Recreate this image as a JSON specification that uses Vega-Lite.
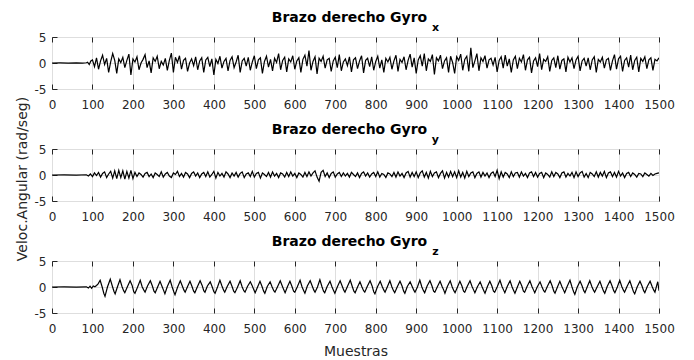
{
"$schema": "https://vega.github.io/schema/vega-lite/v6.json",
"background": "white",
"padding": {"left": 14, "top": 10, "right": 5, "bottom": 5},
"spacing": 60,
"bounds": "flush",
"config": {
  "font": "DejaVu Sans",
  "view": {"stroke": "#262626", "strokeWidth": 1},
  "axis": {"labelFont": "DejaVu Sans", "labelFontSize": 12, "labelColor": "#262626", "tickColor": "#262626", "domain": false, "gridColor": "#dedede", "gridOpacity": 1, "titleFont": "DejaVu Sans", "titleFontSize": 14, "titleFontWeight": "normal", "titleColor": "#262626", "labelFlush": false, "labelOverlap": false},
  "title": {"font": "DejaVu Sans", "fontSize": 14, "fontWeight": "bold", "color": "#000000", "subtitleFont": "DejaVu Sans", "subtitleFontSize": 11, "subtitleFontWeight": "bold", "subtitleColor": "#000000", "subtitlePadding": -3, "offset": -2, "anchor": "middle", "dx": -6}
},
"datasets": {
"gx": [{"m":0,"v":0},{"m":20,"v":0.02},{"m":40,"v":-0.02},{"m":60,"v":0.03},{"m":75,"v":-0.02},{"m":85,"v":0.05},{"m":88,"v":0.15},{"m":92,"v":-0.3},{"m":96,"v":0.4},
{"m":100,"v":0.6},{"m":105,"v":-0.7},{"m":110,"v":1.0},{"m":115,"v":-1.2},{"m":120,"v":0.4},
{"m":125,"v":1.5},{"m":130,"v":-0.3},{"m":135,"v":0.9},{"m":140,"v":-1.8},{"m":145,"v":0.2},
{"m":150,"v":1.8},{"m":155,"v":0.5},{"m":160,"v":-2.0},{"m":165,"v":0.8},{"m":170,"v":0.1},
{"m":175,"v":1.1},{"m":180,"v":-0.9},{"m":185,"v":0.5},{"m":190,"v":1.7},{"m":195,"v":-2.3},
{"m":200,"v":0.8},{"m":205,"v":0.2},{"m":210,"v":1.2},{"m":215,"v":-1.3},{"m":220,"v":0.0},
{"m":225,"v":0.7},{"m":230,"v":1.6},{"m":235,"v":-0.9},{"m":240,"v":0.4},{"m":245,"v":-1.9},
{"m":250,"v":1.0},{"m":255,"v":0.3},{"m":260,"v":1.3},{"m":265,"v":-1.1},{"m":270,"v":0.3},
{"m":275,"v":-0.4},{"m":280,"v":0.9},{"m":285,"v":-1.4},{"m":290,"v":0.5},{"m":295,"v":1.9},
{"m":300,"v":-1.8},{"m":305,"v":1.1},{"m":310,"v":0.1},{"m":315,"v":1.4},{"m":320,"v":-1.2},
{"m":325,"v":0.5},{"m":330,"v":0.9},{"m":335,"v":-1.6},{"m":340,"v":0.0},{"m":345,"v":0.8},
{"m":350,"v":-0.5},{"m":355,"v":1.2},{"m":360,"v":-1.3},{"m":365,"v":0.4},{"m":370,"v":1.0},
{"m":375,"v":-1.8},{"m":380,"v":0.6},{"m":385,"v":1.1},{"m":390,"v":-0.7},{"m":395,"v":0.8},
{"m":400,"v":-2.3},{"m":405,"v":0.7},{"m":410,"v":-0.1},{"m":415,"v":1.3},{"m":420,"v":-1.0},
{"m":425,"v":0.3},{"m":430,"v":0.9},{"m":435,"v":-1.5},{"m":440,"v":0.5},{"m":445,"v":1.2},
{"m":450,"v":-0.9},{"m":455,"v":0.2},{"m":460,"v":1.5},{"m":465,"v":-1.8},{"m":470,"v":0.4},
{"m":475,"v":0.9},{"m":480,"v":-0.6},{"m":485,"v":1.1},{"m":490,"v":-1.4},{"m":495,"v":0.2},
{"m":500,"v":1.4},{"m":505,"v":-1.1},{"m":510,"v":0.6},{"m":515,"v":1.0},{"m":520,"v":-2.0},
{"m":525,"v":0.3},{"m":530,"v":1.3},{"m":535,"v":-0.8},{"m":540,"v":0.7},{"m":545,"v":-1.5},
{"m":550,"v":0.9},{"m":555,"v":0.1},{"m":560,"v":1.8},{"m":565,"v":-1.3},{"m":570,"v":0.5},
{"m":575,"v":1.1},{"m":580,"v":-1.7},{"m":585,"v":0.8},{"m":590,"v":0.2},{"m":595,"v":1.4},
{"m":600,"v":-1.2},{"m":605,"v":0.4},{"m":610,"v":1.0},{"m":615,"v":-1.8},{"m":620,"v":0.7},
{"m":625,"v":1.5},{"m":630,"v":-0.6},{"m":635,"v":2.4},{"m":640,"v":-1.4},{"m":645,"v":0.3},
{"m":650,"v":1.2},{"m":655,"v":-2.1},{"m":660,"v":0.9},{"m":665,"v":0.3},{"m":670,"v":1.3},
{"m":675,"v":-1.0},{"m":680,"v":0.6},{"m":685,"v":0.9},{"m":690,"v":-1.6},{"m":695,"v":0.4},
{"m":700,"v":1.1},{"m":705,"v":-0.9},{"m":710,"v":1.6},{"m":715,"v":-1.5},{"m":720,"v":0.2},
{"m":725,"v":0.8},{"m":730,"v":-0.5},{"m":735,"v":1.2},{"m":740,"v":-1.7},{"m":745,"v":0.6},
{"m":750,"v":1.0},{"m":755,"v":-1.1},{"m":760,"v":0.4},{"m":765,"v":1.4},{"m":770,"v":-1.9},
{"m":775,"v":0.5},{"m":780,"v":0.9},{"m":785,"v":-0.7},{"m":790,"v":1.2},{"m":795,"v":-1.4},
{"m":800,"v":0.3},{"m":805,"v":1.3},{"m":810,"v":-1.0},{"m":815,"v":0.6},{"m":820,"v":-1.8},
{"m":825,"v":0.9},{"m":830,"v":0.2},{"m":835,"v":1.1},{"m":840,"v":-1.2},{"m":845,"v":0.4},
{"m":850,"v":1.5},{"m":855,"v":-1.6},{"m":860,"v":0.7},{"m":865,"v":0.1},{"m":870,"v":1.2},
{"m":875,"v":-1.3},{"m":880,"v":0.5},{"m":885,"v":1.7},{"m":890,"v":-0.8},{"m":895,"v":1.0},
{"m":900,"v":-2.0},{"m":905,"v":0.6},{"m":910,"v":1.4},{"m":915,"v":-0.6},{"m":920,"v":1.8},
{"m":925,"v":-1.5},{"m":930,"v":0.8},{"m":935,"v":0.3},{"m":940,"v":1.6},{"m":945,"v":-2.2},
{"m":950,"v":1.0},{"m":955,"v":0.4},{"m":960,"v":1.5},{"m":965,"v":-1.1},{"m":970,"v":0.4},
{"m":975,"v":1.0},{"m":980,"v":-1.8},{"m":985,"v":1.3},{"m":990,"v":0.1},{"m":995,"v":-2.0},
{"m":1000,"v":1.2},{"m":1005,"v":0.5},{"m":1010,"v":1.7},{"m":1015,"v":-1.4},{"m":1020,"v":0.7},
{"m":1025,"v":1.3},{"m":1030,"v":-1.6},{"m":1035,"v":2.9},{"m":1040,"v":-0.9},{"m":1045,"v":0.4},
{"m":1050,"v":1.8},{"m":1055,"v":-1.5},{"m":1060,"v":1.0},{"m":1065,"v":0.3},{"m":1070,"v":1.4},
{"m":1075,"v":-1.0},{"m":1080,"v":0.6},{"m":1085,"v":0.9},{"m":1090,"v":-0.4},{"m":1095,"v":1.1},
{"m":1100,"v":-1.7},{"m":1105,"v":0.5},{"m":1110,"v":1.2},{"m":1115,"v":-1.0},{"m":1120,"v":1.5},
{"m":1125,"v":-0.6},{"m":1130,"v":0.8},{"m":1135,"v":-1.8},{"m":1140,"v":0.6},{"m":1145,"v":1.3},
{"m":1150,"v":-1.1},{"m":1155,"v":0.9},{"m":1160,"v":0.2},{"m":1165,"v":1.6},{"m":1170,"v":-1.4},
{"m":1175,"v":0.6},{"m":1180,"v":1.1},{"m":1185,"v":-1.9},{"m":1190,"v":0.4},{"m":1195,"v":1.0},
{"m":1200,"v":-0.7},{"m":1205,"v":1.8},{"m":1210,"v":-1.3},{"m":1215,"v":0.7},{"m":1220,"v":0.3},
{"m":1225,"v":1.2},{"m":1230,"v":-1.6},{"m":1235,"v":0.5},{"m":1240,"v":1.0},{"m":1245,"v":-0.9},
{"m":1250,"v":1.4},{"m":1255,"v":-1.2},{"m":1260,"v":0.5},{"m":1265,"v":0.8},{"m":1270,"v":-1.7},
{"m":1275,"v":1.1},{"m":1280,"v":0.2},{"m":1285,"v":1.0},{"m":1290,"v":-1.1},{"m":1295,"v":0.6},
{"m":1300,"v":1.3},{"m":1305,"v":-1.5},{"m":1310,"v":0.4},{"m":1315,"v":0.9},{"m":1320,"v":-0.6},
{"m":1325,"v":1.0},{"m":1330,"v":-1.3},{"m":1335,"v":0.6},{"m":1340,"v":1.2},{"m":1345,"v":-1.8},
{"m":1350,"v":0.7},{"m":1355,"v":0.2},{"m":1360,"v":1.1},{"m":1365,"v":-1.0},{"m":1370,"v":0.6},
{"m":1375,"v":0.9},{"m":1380,"v":-1.4},{"m":1385,"v":0.4},{"m":1390,"v":1.6},{"m":1395,"v":-1.2},
{"m":1400,"v":0.8},{"m":1405,"v":1.3},{"m":1410,"v":-1.6},{"m":1415,"v":0.5},{"m":1420,"v":1.0},
{"m":1425,"v":-0.8},{"m":1430,"v":1.5},{"m":1435,"v":-1.3},{"m":1440,"v":0.5},{"m":1445,"v":1.1},
{"m":1450,"v":-1.7},{"m":1455,"v":0.9},{"m":1460,"v":0.3},{"m":1465,"v":1.2},{"m":1470,"v":-1.1},
{"m":1475,"v":0.6},{"m":1480,"v":1.0},{"m":1485,"v":-1.4},{"m":1490,"v":0.7},{"m":1495,"v":0.4},
{"m":1500,"v":1.0}],
"gy": [{"m":0,"v":0},{"m":30,"v":0.02},{"m":60,"v":-0.03},{"m":85,"v":0.05},{"m":90,"v":-0.2},{"m":95,"v":0.2},
{"m":100,"v":-0.3},{"m":105,"v":0.4},{"m":110,"v":-0.1},{"m":115,"v":0.5},{"m":120,"v":-0.4},
{"m":125,"v":0.3},{"m":130,"v":0.6},{"m":135,"v":-0.5},{"m":140,"v":0.2},{"m":145,"v":0.7},
{"m":150,"v":-0.6},{"m":155,"v":0.8},{"m":160,"v":-0.7},{"m":165,"v":0.9},{"m":170,"v":-0.5},
{"m":175,"v":0.8},{"m":180,"v":-0.8},{"m":185,"v":0.7},{"m":190,"v":-0.6},{"m":195,"v":0.9},
{"m":200,"v":-0.7},{"m":205,"v":0.5},{"m":210,"v":-0.3},{"m":215,"v":0.4},{"m":220,"v":0.1},
{"m":225,"v":-0.4},{"m":230,"v":0.3},{"m":235,"v":0.5},{"m":240,"v":-0.3},{"m":245,"v":0.2},
{"m":250,"v":-0.5},{"m":255,"v":0.4},{"m":260,"v":0.1},{"m":265,"v":-0.3},{"m":270,"v":0.6},
{"m":275,"v":-0.4},{"m":280,"v":0.2},{"m":285,"v":0.5},{"m":290,"v":-0.2},{"m":295,"v":-0.5},
{"m":300,"v":0.4},{"m":305,"v":0.1},{"m":310,"v":0.7},{"m":315,"v":-0.3},{"m":320,"v":0.3},
{"m":325,"v":-0.4},{"m":330,"v":0.5},{"m":335,"v":0.2},{"m":340,"v":-0.5},{"m":345,"v":0.3},
{"m":350,"v":0.6},{"m":355,"v":-0.2},{"m":360,"v":0.4},{"m":365,"v":-0.5},{"m":370,"v":0.2},
{"m":375,"v":0.5},{"m":380,"v":-0.3},{"m":385,"v":0.6},{"m":390,"v":-0.4},{"m":395,"v":0.1},
{"m":400,"v":0.7},{"m":405,"v":-0.6},{"m":410,"v":0.5},{"m":415,"v":-0.2},{"m":420,"v":0.3},
{"m":425,"v":-0.4},{"m":430,"v":0.6},{"m":435,"v":0.2},{"m":440,"v":-0.5},{"m":445,"v":0.4},
{"m":450,"v":-0.2},{"m":455,"v":0.5},{"m":460,"v":-0.4},{"m":465,"v":0.3},{"m":470,"v":0.6},
{"m":475,"v":-0.5},{"m":480,"v":0.2},{"m":485,"v":0.4},{"m":490,"v":-0.3},{"m":495,"v":0.7},
{"m":500,"v":-0.4},{"m":505,"v":0.3},{"m":510,"v":0.5},{"m":515,"v":-0.6},{"m":520,"v":0.4},
{"m":525,"v":0.1},{"m":530,"v":-0.3},{"m":535,"v":0.5},{"m":540,"v":-0.4},{"m":545,"v":0.6},
{"m":550,"v":-0.2},{"m":555,"v":0.3},{"m":560,"v":-0.5},{"m":565,"v":0.4},{"m":570,"v":0.2},
{"m":575,"v":-0.4},{"m":580,"v":0.5},{"m":585,"v":-0.3},{"m":590,"v":0.6},{"m":595,"v":-0.2},
{"m":600,"v":0.3},{"m":605,"v":-0.5},{"m":610,"v":0.4},{"m":615,"v":0.1},{"m":620,"v":-0.4},
{"m":625,"v":0.5},{"m":630,"v":-0.3},{"m":635,"v":0.6},{"m":640,"v":-0.2},{"m":645,"v":0.4},
{"m":650,"v":0.8},{"m":655,"v":-0.4},{"m":660,"v":-1.2},{"m":665,"v":0.5},{"m":670,"v":0.9},
{"m":675,"v":-0.3},{"m":680,"v":0.4},{"m":685,"v":-0.5},{"m":690,"v":0.3},{"m":695,"v":0.6},
{"m":700,"v":-0.4},{"m":705,"v":0.2},{"m":710,"v":0.5},{"m":715,"v":-0.3},{"m":720,"v":0.4},
{"m":725,"v":-0.2},{"m":730,"v":0.3},{"m":735,"v":-0.4},{"m":740,"v":0.5},{"m":745,"v":0.1},
{"m":750,"v":-0.3},{"m":755,"v":0.4},{"m":760,"v":-0.5},{"m":765,"v":0.3},{"m":770,"v":0.6},
{"m":775,"v":-0.2},{"m":780,"v":0.4},{"m":785,"v":-0.4},{"m":790,"v":0.2},{"m":795,"v":0.5},
{"m":800,"v":-0.3},{"m":805,"v":0.6},{"m":810,"v":-0.4},{"m":815,"v":0.3},{"m":820,"v":0.1},
{"m":825,"v":-0.5},{"m":830,"v":0.4},{"m":835,"v":0.2},{"m":840,"v":-0.3},{"m":845,"v":0.5},
{"m":850,"v":-0.4},{"m":855,"v":0.6},{"m":860,"v":-0.2},{"m":865,"v":0.3},{"m":870,"v":-0.5},
{"m":875,"v":0.4},{"m":880,"v":0.7},{"m":885,"v":-0.4},{"m":890,"v":0.5},{"m":895,"v":-0.3},
{"m":900,"v":0.6},{"m":905,"v":-0.5},{"m":910,"v":0.4},{"m":915,"v":0.8},{"m":920,"v":-0.4},
{"m":925,"v":0.5},{"m":930,"v":-0.6},{"m":935,"v":0.7},{"m":940,"v":-0.3},{"m":945,"v":0.4},
{"m":950,"v":0.6},{"m":955,"v":-0.5},{"m":960,"v":0.3},{"m":965,"v":0.8},{"m":970,"v":-0.6},
{"m":975,"v":0.5},{"m":980,"v":-0.4},{"m":985,"v":0.7},{"m":990,"v":-0.3},{"m":995,"v":0.6},
{"m":1000,"v":-0.5},{"m":1005,"v":0.8},{"m":1010,"v":-0.4},{"m":1015,"v":0.5},{"m":1020,"v":-0.6},
{"m":1025,"v":0.7},{"m":1030,"v":-0.3},{"m":1035,"v":0.4},{"m":1040,"v":0.6},{"m":1045,"v":-0.5},
{"m":1050,"v":0.3},{"m":1055,"v":0.6},{"m":1060,"v":-0.4},{"m":1065,"v":0.5},{"m":1070,"v":-0.2},
{"m":1075,"v":0.4},{"m":1080,"v":-0.5},{"m":1085,"v":0.3},{"m":1090,"v":0.6},{"m":1095,"v":-0.3},
{"m":1100,"v":0.9},{"m":1105,"v":-0.7},{"m":1110,"v":0.6},{"m":1115,"v":-0.4},{"m":1120,"v":0.5},
{"m":1125,"v":0.2},{"m":1130,"v":-0.5},{"m":1135,"v":0.6},{"m":1140,"v":-0.3},{"m":1145,"v":0.4},
{"m":1150,"v":0.5},{"m":1155,"v":-0.4},{"m":1160,"v":0.6},{"m":1165,"v":-0.2},{"m":1170,"v":0.3},
{"m":1175,"v":-0.5},{"m":1180,"v":0.4},{"m":1185,"v":0.6},{"m":1190,"v":-0.3},{"m":1195,"v":0.5},
{"m":1200,"v":-0.4},{"m":1205,"v":0.3},{"m":1210,"v":0.5},{"m":1215,"v":-0.5},{"m":1220,"v":0.4},
{"m":1225,"v":0.1},{"m":1230,"v":-0.4},{"m":1235,"v":0.6},{"m":1240,"v":-0.3},{"m":1245,"v":0.5},
{"m":1250,"v":0.2},{"m":1255,"v":-0.5},{"m":1260,"v":0.4},{"m":1265,"v":0.6},{"m":1270,"v":-0.4},
{"m":1275,"v":0.3},{"m":1280,"v":-0.2},{"m":1285,"v":0.5},{"m":1290,"v":-0.5},{"m":1295,"v":0.6},
{"m":1300,"v":-0.3},{"m":1305,"v":0.4},{"m":1310,"v":0.7},{"m":1315,"v":-0.4},{"m":1320,"v":0.3},
{"m":1325,"v":-0.5},{"m":1330,"v":0.5},{"m":1335,"v":0.2},{"m":1340,"v":-0.3},{"m":1345,"v":0.6},
{"m":1350,"v":-0.4},{"m":1355,"v":0.5},{"m":1360,"v":-0.2},{"m":1365,"v":0.7},{"m":1370,"v":-0.5},
{"m":1375,"v":0.4},{"m":1380,"v":0.6},{"m":1385,"v":-0.3},{"m":1390,"v":0.5},{"m":1395,"v":-0.4},
{"m":1400,"v":0.7},{"m":1405,"v":-0.2},{"m":1410,"v":0.4},{"m":1415,"v":-0.5},{"m":1420,"v":0.3},
{"m":1425,"v":0.5},{"m":1430,"v":-0.3},{"m":1435,"v":0.4},{"m":1440,"v":0.1},{"m":1445,"v":-0.4},
{"m":1450,"v":0.3},{"m":1455,"v":0.2},{"m":1460,"v":-0.3},{"m":1465,"v":0.4},{"m":1470,"v":0.1},
{"m":1475,"v":-0.2},{"m":1480,"v":0.3},{"m":1485,"v":-0.1},{"m":1490,"v":0.2},{"m":1495,"v":0.3},
{"m":1500,"v":0.4}],
"gz": [{"m":0,"v":0},{"m":30,"v":0.02},{"m":60,"v":-0.02},{"m":85,"v":0.04},{"m":90,"v":-0.2},{"m":94,"v":0.15},{"m":98,"v":-0.25},{"m":102,"v":0.2},{"m":106,"v":0.05},{"m":110,"v":0.3},{"m":114,"v":0.6},
{"m":119,"v":1.3},{"m":124,"v":0.0},{"m":128,"v":-1.2},{"m":131,"v":-1.8},{"m":137,"v":0.0},
{"m":144,"v":1.5},{"m":149,"v":0.2},{"m":153,"v":-0.8},{"m":156,"v":-1.3},{"m":162,"v":0.1},
{"m":168,"v":1.4},{"m":173,"v":0.1},{"m":177,"v":-0.7},{"m":180,"v":-1.1},{"m":186,"v":0.0},
{"m":193,"v":1.2},{"m":198,"v":0.3},{"m":202,"v":-0.9},{"m":205,"v":-1.2},{"m":211,"v":-0.1},
{"m":218,"v":1.3},{"m":223,"v":0.0},{"m":227,"v":-0.6},{"m":230,"v":-1.0},{"m":236,"v":0.2},
{"m":243,"v":1.2},{"m":248,"v":0.2},{"m":252,"v":-0.8},{"m":255,"v":-1.1},{"m":261,"v":0.0},
{"m":267,"v":1.1},{"m":272,"v":0.1},{"m":276,"v":-0.7},{"m":279,"v":-1.3},{"m":285,"v":0.1},
{"m":292,"v":1.3},{"m":297,"v":0.0},{"m":301,"v":-0.9},{"m":304,"v":-1.5},{"m":310,"v":-0.1},
{"m":317,"v":1.2},{"m":322,"v":0.2},{"m":326,"v":-0.6},{"m":329,"v":-1.0},{"m":335,"v":0.1},
{"m":341,"v":1.1},{"m":346,"v":0.1},{"m":350,"v":-0.8},{"m":353,"v":-1.1},{"m":359,"v":0.0},
{"m":366,"v":1.2},{"m":371,"v":0.3},{"m":375,"v":-0.7},{"m":378,"v":-1.0},{"m":384,"v":0.2},
{"m":391,"v":1.0},{"m":396,"v":0.0},{"m":400,"v":-0.9},{"m":403,"v":-1.2},{"m":409,"v":0.0},
{"m":415,"v":1.3},{"m":420,"v":0.2},{"m":424,"v":-0.6},{"m":427,"v":-1.0},{"m":433,"v":0.1},
{"m":440,"v":1.1},{"m":445,"v":0.1},{"m":449,"v":-0.8},{"m":452,"v":-1.1},{"m":458,"v":-0.1},
{"m":465,"v":1.2},{"m":470,"v":0.0},{"m":474,"v":-0.7},{"m":477,"v":-1.0},{"m":483,"v":0.1},
{"m":490,"v":1.0},{"m":495,"v":0.2},{"m":499,"v":-0.6},{"m":502,"v":-1.1},{"m":508,"v":0.0},
{"m":514,"v":1.1},{"m":519,"v":0.1},{"m":523,"v":-0.8},{"m":526,"v":-1.2},{"m":532,"v":0.1},
{"m":539,"v":1.0},{"m":544,"v":0.0},{"m":548,"v":-0.7},{"m":551,"v":-1.0},{"m":557,"v":0.0},
{"m":564,"v":1.2},{"m":569,"v":0.2},{"m":573,"v":-0.6},{"m":576,"v":-1.1},{"m":582,"v":0.1},
{"m":588,"v":1.1},{"m":593,"v":0.1},{"m":597,"v":-0.8},{"m":600,"v":-1.0},{"m":606,"v":0.0},
{"m":613,"v":1.3},{"m":618,"v":0.0},{"m":622,"v":-0.7},{"m":625,"v":-1.2},{"m":631,"v":0.2},
{"m":638,"v":1.2},{"m":643,"v":0.2},{"m":647,"v":-0.6},{"m":650,"v":-1.0},{"m":656,"v":0.0},
{"m":662,"v":1.4},{"m":667,"v":0.1},{"m":671,"v":-0.8},{"m":674,"v":-1.1},{"m":680,"v":0.1},
{"m":687,"v":1.1},{"m":692,"v":0.0},{"m":696,"v":-0.7},{"m":699,"v":-1.2},{"m":705,"v":0.0},
{"m":712,"v":1.2},{"m":717,"v":0.2},{"m":721,"v":-0.6},{"m":724,"v":-1.0},{"m":730,"v":0.1},
{"m":737,"v":1.3},{"m":742,"v":0.1},{"m":746,"v":-0.8},{"m":749,"v":-1.1},{"m":755,"v":0.0},
{"m":761,"v":1.0},{"m":766,"v":0.0},{"m":770,"v":-0.7},{"m":773,"v":-1.0},{"m":779,"v":0.1},
{"m":786,"v":1.2},{"m":791,"v":0.2},{"m":795,"v":-0.9},{"m":798,"v":-1.3},{"m":804,"v":0.0},
{"m":811,"v":1.1},{"m":816,"v":0.1},{"m":820,"v":-0.6},{"m":823,"v":-1.0},{"m":829,"v":0.1},
{"m":835,"v":1.2},{"m":840,"v":0.0},{"m":844,"v":-0.7},{"m":847,"v":-1.1},{"m":853,"v":0.0},
{"m":860,"v":1.1},{"m":865,"v":0.2},{"m":869,"v":-0.8},{"m":872,"v":-1.2},{"m":878,"v":0.1},
{"m":885,"v":1.0},{"m":890,"v":0.1},{"m":894,"v":-0.6},{"m":897,"v":-1.0},{"m":903,"v":0.0},
{"m":909,"v":1.3},{"m":914,"v":0.0},{"m":918,"v":-0.7},{"m":921,"v":-1.1},{"m":927,"v":0.2},
{"m":934,"v":1.2},{"m":939,"v":0.2},{"m":943,"v":-0.8},{"m":946,"v":-1.0},{"m":952,"v":0.0},
{"m":959,"v":1.1},{"m":964,"v":0.1},{"m":968,"v":-0.6},{"m":971,"v":-1.2},{"m":977,"v":0.1},
{"m":984,"v":1.2},{"m":989,"v":0.0},{"m":993,"v":-0.7},{"m":996,"v":-1.1},{"m":1002,"v":0.0},
{"m":1008,"v":1.1},{"m":1013,"v":0.2},{"m":1017,"v":-0.8},{"m":1020,"v":-1.0},{"m":1026,"v":0.1},
{"m":1033,"v":1.2},{"m":1038,"v":0.1},{"m":1042,"v":-0.6},{"m":1045,"v":-1.1},{"m":1051,"v":0.0},
{"m":1058,"v":1.0},{"m":1063,"v":0.0},{"m":1067,"v":-0.7},{"m":1070,"v":-1.2},{"m":1076,"v":0.1},
{"m":1082,"v":1.1},{"m":1087,"v":0.2},{"m":1091,"v":-0.8},{"m":1094,"v":-1.0},{"m":1100,"v":0.0},
{"m":1107,"v":1.3},{"m":1112,"v":0.1},{"m":1116,"v":-0.6},{"m":1119,"v":-1.1},{"m":1125,"v":0.1},
{"m":1132,"v":1.2},{"m":1137,"v":0.0},{"m":1141,"v":-0.7},{"m":1144,"v":-1.2},{"m":1150,"v":0.0},
{"m":1156,"v":1.1},{"m":1161,"v":0.2},{"m":1165,"v":-0.8},{"m":1168,"v":-1.0},{"m":1174,"v":0.1},
{"m":1181,"v":1.2},{"m":1186,"v":0.1},{"m":1190,"v":-0.6},{"m":1193,"v":-1.1},{"m":1199,"v":0.0},
{"m":1206,"v":1.0},{"m":1211,"v":0.0},{"m":1215,"v":-0.7},{"m":1218,"v":-1.0},{"m":1224,"v":0.1},
{"m":1231,"v":1.2},{"m":1236,"v":0.2},{"m":1240,"v":-0.8},{"m":1243,"v":-1.2},{"m":1249,"v":0.0},
{"m":1255,"v":1.1},{"m":1260,"v":0.1},{"m":1264,"v":-0.6},{"m":1267,"v":-1.1},{"m":1273,"v":0.1},
{"m":1280,"v":1.3},{"m":1285,"v":0.0},{"m":1289,"v":-0.9},{"m":1292,"v":-1.4},{"m":1298,"v":0.0},
{"m":1305,"v":1.1},{"m":1310,"v":0.2},{"m":1314,"v":-0.7},{"m":1317,"v":-1.1},{"m":1323,"v":0.1},
{"m":1329,"v":1.2},{"m":1334,"v":0.1},{"m":1338,"v":-0.6},{"m":1341,"v":-1.0},{"m":1347,"v":0.0},
{"m":1354,"v":1.1},{"m":1359,"v":0.0},{"m":1363,"v":-0.8},{"m":1366,"v":-1.2},{"m":1372,"v":0.1},
{"m":1379,"v":1.2},{"m":1384,"v":0.2},{"m":1388,"v":-0.7},{"m":1391,"v":-1.1},{"m":1397,"v":0.0},
{"m":1403,"v":1.3},{"m":1408,"v":0.1},{"m":1412,"v":-0.6},{"m":1415,"v":-1.0},{"m":1421,"v":0.1},
{"m":1428,"v":1.2},{"m":1433,"v":0.0},{"m":1437,"v":-0.9},{"m":1440,"v":-1.3},{"m":1446,"v":0.0},
{"m":1453,"v":1.1},{"m":1458,"v":0.2},{"m":1462,"v":-0.7},{"m":1465,"v":-1.1},{"m":1471,"v":0.1},
{"m":1478,"v":1.1},{"m":1483,"v":0.1},{"m":1487,"v":-0.6},{"m":1490,"v":-1.0},{"m":1495,"v":0.5},{"m":1497,"v":1.0},{"m":1500,"v":-0.7}]
},
"vconcat": [
{
  "width": 607, "height": 52,
  "data": {"name": "gx"},
  "title": {"text": "Brazo derecho Gyro", "subtitle": "\u2800\u2800\u2800\u2800\u2800\u2800\u2800\u2800\u2800\u2800\u2800\u2800\u2800\u2800\u2800\u2800\u2800\u2800\u2800\u2800x"},
  "layer": [
    {"mark": {"type": "line", "color": "#000000", "strokeWidth": 1.2, "clip": true},
     "encoding": {
       "x": {"field": "m", "type": "quantitative", "scale": {"domain": [0, 1500], "nice": false}, "axis": {"values": [0,100,200,300,400,500,600,700,800,900,1000,1100,1200,1300,1400,1500], "format": "d", "title": null, "grid": true, "tickSize": -5, "labelPadding": 15}},
       "y": {"field": "v", "type": "quantitative", "scale": {"domain": [-5, 5], "nice": false}, "axis": {"values": [-5,0,5], "labelExpr": "'' + datum.value", "title": "Veloc.Angular (rad/seg)", "titleY": 141.5, "titlePadding": 5, "grid": true, "tickSize": -5, "labelPadding": 11}}
     }},
    {"mark": {"type": "line", "opacity": 0},
     "encoding": {
       "x": {"field": "m", "type": "quantitative", "axis": {"orient": "top", "values": [0,100,200,300,400,500,600,700,800,900,1000,1100,1200,1300,1400,1500], "labels": false, "title": null, "grid": false, "tickSize": -5}},
       "y": {"field": "v", "type": "quantitative", "axis": null}
     }}
  ],
  "resolve": {"axis": {"x": "independent", "y": "independent"}}
},
{
  "width": 607, "height": 52,
  "data": {"name": "gy"},
  "title": {"text": "Brazo derecho Gyro", "subtitle": "\u2800\u2800\u2800\u2800\u2800\u2800\u2800\u2800\u2800\u2800\u2800\u2800\u2800\u2800\u2800\u2800\u2800\u2800\u2800\u2800y"},
  "layer": [
    {"mark": {"type": "line", "color": "#000000", "strokeWidth": 1.2, "clip": true},
     "encoding": {
       "x": {"field": "m", "type": "quantitative", "scale": {"domain": [0, 1500], "nice": false}, "axis": {"values": [0,100,200,300,400,500,600,700,800,900,1000,1100,1200,1300,1400,1500], "format": "d", "title": null, "grid": true, "tickSize": -5, "labelPadding": 15}},
       "y": {"field": "v", "type": "quantitative", "scale": {"domain": [-5, 5], "nice": false}, "axis": {"values": [-5,0,5], "labelExpr": "'' + datum.value", "title": null, "grid": true, "tickSize": -5, "labelPadding": 11}}
     }},
    {"mark": {"type": "line", "opacity": 0},
     "encoding": {
       "x": {"field": "m", "type": "quantitative", "axis": {"orient": "top", "values": [0,100,200,300,400,500,600,700,800,900,1000,1100,1200,1300,1400,1500], "labels": false, "title": null, "grid": false, "tickSize": -5}},
       "y": {"field": "v", "type": "quantitative", "axis": null}
     }}
  ],
  "resolve": {"axis": {"x": "independent", "y": "independent"}}
},
{
  "width": 607, "height": 52,
  "data": {"name": "gz"},
  "title": {"text": "Brazo derecho Gyro", "subtitle": "\u2800\u2800\u2800\u2800\u2800\u2800\u2800\u2800\u2800\u2800\u2800\u2800\u2800\u2800\u2800\u2800\u2800\u2800\u2800\u2800z"},
  "layer": [
    {"mark": {"type": "line", "color": "#000000", "strokeWidth": 1.2, "clip": true},
     "encoding": {
       "x": {"field": "m", "type": "quantitative", "scale": {"domain": [0, 1500], "nice": false}, "axis": {"values": [0,100,200,300,400,500,600,700,800,900,1000,1100,1200,1300,1400,1500], "format": "d", "title": "Muestras", "titlePadding": 10, "grid": true, "tickSize": -5, "labelPadding": 15}},
       "y": {"field": "v", "type": "quantitative", "scale": {"domain": [-5, 5], "nice": false}, "axis": {"values": [-5,0,5], "labelExpr": "'' + datum.value", "title": null, "grid": true, "tickSize": -5, "labelPadding": 11}}
     }},
    {"mark": {"type": "line", "opacity": 0},
     "encoding": {
       "x": {"field": "m", "type": "quantitative", "axis": {"orient": "top", "values": [0,100,200,300,400,500,600,700,800,900,1000,1100,1200,1300,1400,1500], "labels": false, "title": null, "grid": false, "tickSize": -5}},
       "y": {"field": "v", "type": "quantitative", "axis": null}
     }}
  ],
  "resolve": {"axis": {"x": "independent", "y": "independent"}}
}
]
}
